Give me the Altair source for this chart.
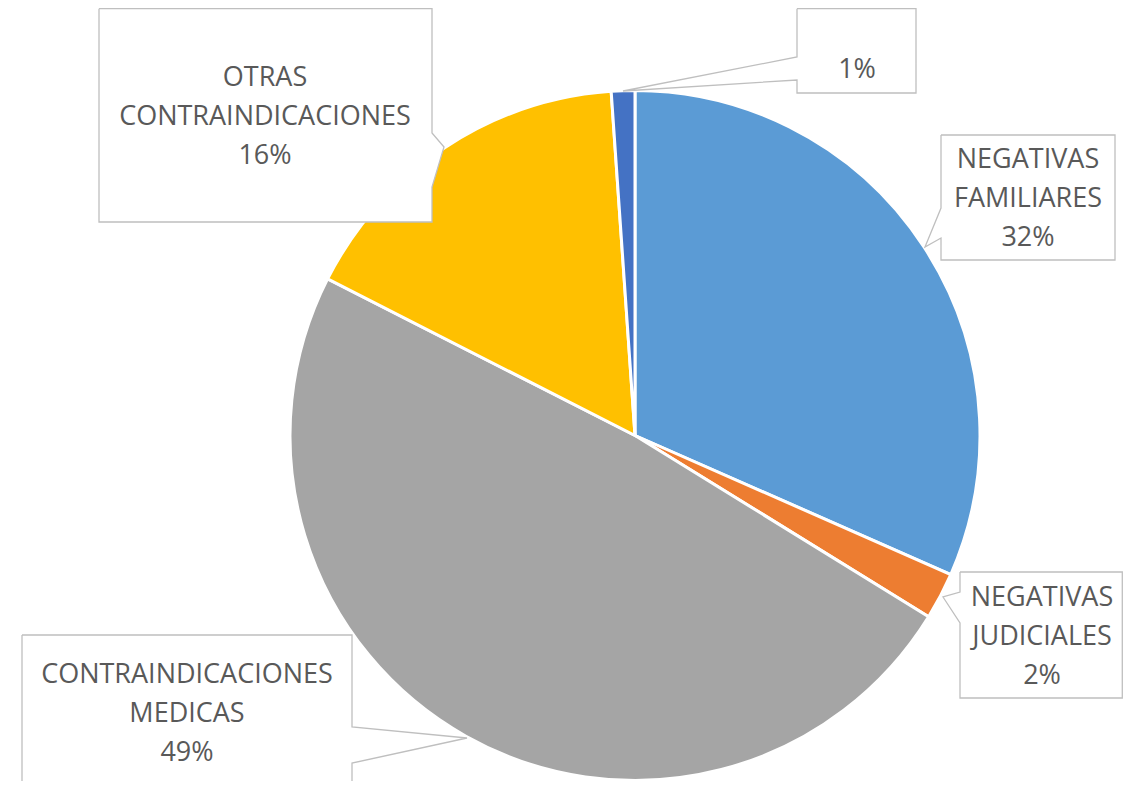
import altair as alt
import pandas as pd

# ---- data ----
categories = ["NEGATIVAS FAMILIARES", "NEGATIVAS JUDICIALES",
              "CONTRAINDICACIONES MEDICAS", "OTRAS CONTRAINDICACIONES", "OTROS"]
values = [31.6, 2.2, 48.7, 16.4, 1.1]
label_names = ["NEGATIVAS\nFAMILIARES", "NEGATIVAS\nJUDICIALES",
               "CONTRAINDICACIONES\nMEDICAS", "OTRAS\nCONTRAINDICACIONES", ""]
colors = ["#5B9BD5", "#ED7D31", "#A5A5A5", "#FFC000", "#4472C4"]

# ---- layout (chart pixel space) ----
W, H = 1115, 773
CX, CY, R = 627, 427.5, 345
label_pos = [(1020, 152), (1034, 590), (179, 667), (257, 70), (849, 62)]
callouts = [
    [(933, 127), (1107, 127), (1107, 252), (933, 252), (933, 230), (917, 239), (933, 200)],
    [(952, 564), (1114.3, 564), (1114.3, 690), (952, 690), (952, 615), (935, 589), (952, 584)],
    [(14, 627), (344, 627), (344, 719), (459, 730), (344, 755), (344, 800), (14, 800)],
    [(91, 0.7), (424, 0.7), (424, 125), (436, 139), (424, 179), (424, 214), (91, 214)],
    [(789, 0.7), (908, 0.7), (908, 85), (789, 85), (789, 72), (615, 83), (789, 49)],
]

pie_df = pd.DataFrame({"cat": categories, "value": values, "idx": range(len(categories))})

rows = []
for i, poly in enumerate(callouts):
    pts = poly + [poly[0]]
    for j, (x, y) in enumerate(pts):
        rows.append({"box": i, "o": j, "x": x, "y": y})
box_df = pd.DataFrame(rows)

texts = []
for name, v in zip(label_names, values):
    pct = f"{round(v)}%"
    texts.append(f"{name}\n{pct}" if name else pct)
text_df = pd.DataFrame({"x": [p[0] for p in label_pos], "y": [p[1] for p in label_pos], "t": texts})

xs = alt.Scale(domain=[0, W], nice=False, zero=False)
ys = alt.Scale(domain=[0, H], nice=False, zero=False, reverse=True)

pie = alt.Chart(pie_df).mark_arc(outerRadius=R, stroke="white", strokeWidth=3).encode(
    theta=alt.Theta("value:Q", stack=True),
    order=alt.Order("idx:Q"),
    color=alt.Color("cat:N", scale=alt.Scale(domain=categories, range=colors), legend=None),
    x=alt.value(CX),
    y=alt.value(CY),
)

boxes = alt.Chart(box_df).mark_line(fill="white", stroke="#BFBFBF", strokeWidth=1.3, clip=True).encode(
    x=alt.X("x:Q", scale=xs, axis=None),
    y=alt.Y("y:Q", scale=ys, axis=None),
    detail="box:N",
    order="o:Q",
)

labels = alt.Chart(text_df).mark_text(
    lineBreak="\n", lineHeight=39, font="Open Sans", fontSize=27,
    color="#595959", align="center", baseline="middle",
).encode(
    x=alt.X("x:Q", scale=xs, axis=None),
    y=alt.Y("y:Q", scale=ys, axis=None),
    text="t:N",
)

chart = alt.layer(pie, boxes, labels).properties(
    width=W, height=H, padding=0, autosize=alt.AutoSizeParams(type="none"),
).configure_view(stroke=None)

chart.save("out.html", embed_options={"renderer": "svg", "actions": False})
